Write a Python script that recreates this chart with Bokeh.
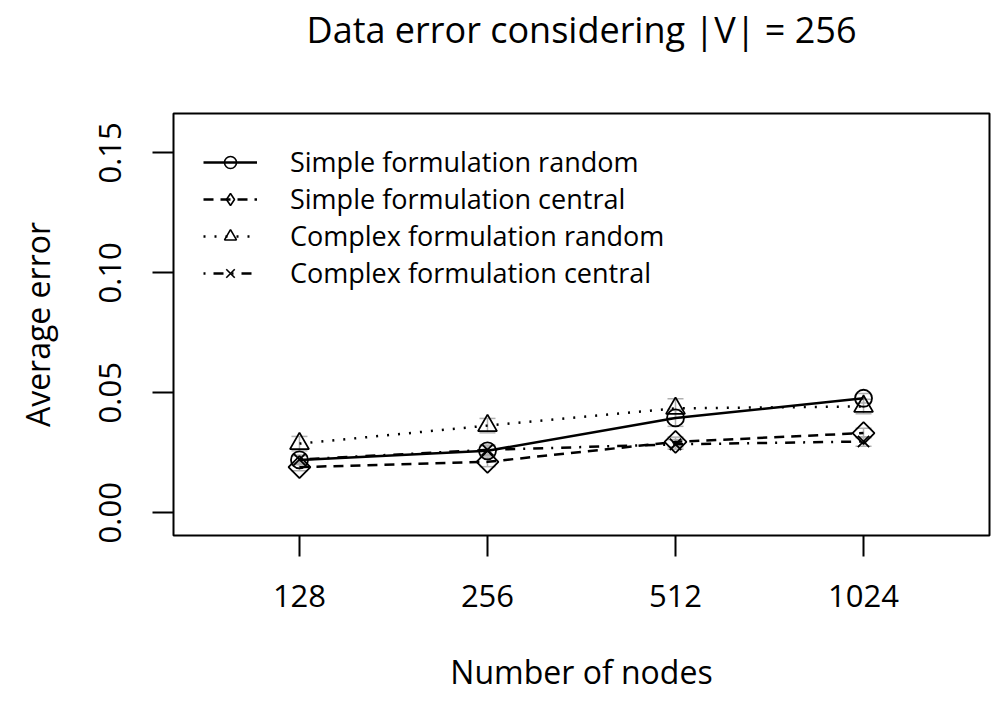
import math
from bokeh.plotting import figure
from bokeh.models import (ColumnDataSource, Range1d, FixedTicker, Legend, LegendItem,
                          Whisker, TeeHead, Title)
from bokeh.embed import file_html
from bokeh.resources import INLINE

# ---- data ----
nodes = ["128", "256", "512", "1024"]
xpos = [1, 2, 3, 4]
simple_random = [0.022, 0.0258, 0.0395, 0.0477]
simple_central = [0.0190, 0.0212, 0.0295, 0.0332]
complex_random = [0.0288, 0.0363, 0.0435, 0.0443]
complex_central = [0.0222, 0.0262, 0.0285, 0.0297]
sd_simple_random = [0.0020, 0.0020, 0.0035, 0.0020]
sd_simple_central = [0.0015, 0.0020, 0.0020, 0.0020]
sd_complex_random = [0.0030, 0.0030, 0.0040, 0.0030]
sd_complex_central = [0.0015, 0.0020, 0.0020, 0.0020]
y_ticks = [0.0, 0.05, 0.10, 0.15]
y_tick_labels = ["0.00", "0.05", "0.10", "0.15"]
series_names = ["Simple formulation random", "Simple formulation central",
                "Complex formulation random", "Complex formulation central"]
title_text = "Data error considering |V| = 256"

FONT = "Open Sans"

p = figure(width=992, height=695, output_backend="svg", toolbar_location=None,
           x_range=Range1d(0.33, 4.67), y_range=Range1d(-0.0095, 0.1664),
           min_border_left=173, min_border_right=3, min_border_top=113,
           min_border_bottom=159, title=None)

spacer = Title(text=" ", text_font=FONT, text_font_size="10px", standoff=44)
real_title = Title(text=title_text, text_font=FONT, text_font_size="36px",
                   text_font_style="normal", text_color="black", align="center",
                   standoff=0, offset=0)
p.add_layout(spacer, "above")
p.add_layout(real_title, "above")

p.xgrid.visible = False
p.ygrid.visible = False
p.outline_line_color = "black"
p.outline_line_width = 2
p.outline_line_alpha = 1.0
p.background_fill_color = "white"
p.border_fill_color = "white"

for ax in (p.xaxis[0], p.yaxis[0]):
    ax.axis_line_color = None
    ax.major_tick_out = 21
    ax.major_tick_in = 0
    ax.major_tick_line_width = 2
    ax.major_tick_line_color = "black"
    ax.minor_tick_line_color = None
    ax.major_label_text_font = FONT
    ax.major_label_text_font_size = "31px"
    ax.major_label_text_color = "black"
    ax.axis_label_text_font = FONT
    ax.axis_label_text_font_size = "32px"
    ax.axis_label_text_font_style = "normal"
    ax.axis_label_text_color = "black"

p.xaxis.ticker = FixedTicker(ticks=xpos)
p.xaxis.major_label_overrides = {x: n for x, n in zip(xpos, nodes)}
p.xaxis.major_label_standoff = 28
p.xaxis.axis_label = "Number of nodes"
p.xaxis.axis_label_standoff = 40

p.yaxis.ticker = FixedTicker(ticks=y_ticks)
p.yaxis.major_label_overrides = {t: l for t, l in zip(y_ticks, y_tick_labels)}
p.yaxis.major_label_orientation = "vertical"
p.yaxis.major_label_standoff = 31
p.yaxis.axis_label = "Average error"
p.yaxis.axis_label_standoff = 38

series = [
    (simple_random, sd_simple_random, "solid", "circle", 17, 0, "circle", 11),
    (simple_central, sd_simple_central, "10 7", "square", 15.5, math.pi / 4, "diamond", 17),
    (complex_random, sd_complex_random, "2 9", "triangle", 19, 0, "triangle", 14),
    (complex_central, sd_complex_central, "2 8 10 8", "x", 16, 0, "x", 12),
]

items = []
for name, (vals, sds, dash, marker, msize, angle, lmarker, lsize) in zip(series_names, series):
    src = ColumnDataSource(dict(x=xpos, y=vals,
                                upper=[v + s for v, s in zip(vals, sds)],
                                lower=[v - s for v, s in zip(vals, sds)]))
    w = Whisker(source=src, base="x", upper="upper", lower="lower",
                line_color="#b0b0b0", line_width=1.5,
                upper_head=TeeHead(size=16, line_color="#b0b0b0", line_width=1.5),
                lower_head=TeeHead(size=16, line_color="#b0b0b0", line_width=1.5))
    p.add_layout(w)
    lr = p.line("x", "y", source=src, line_color="black", line_width=2.5, line_dash=dash)
    p.scatter("x", "y", source=src, marker=marker, size=msize, angle=angle,
              line_color="black", line_width=1.8, fill_color=None)
    dummy = p.scatter(x=[float("nan")], y=[float("nan")], marker=lmarker, size=lsize,
                      line_color="black", line_width=1.6, fill_color=None)
    items.append(LegendItem(label=name, renderers=[lr, dummy]))

legend = Legend(items=items, location="top_left", border_line_color=None,
                background_fill_alpha=0, label_text_font=FONT, label_text_color="black",
                label_text_font_size="27px", glyph_width=54, glyph_height=30,
                label_height=30, spacing=-2, padding=0, margin=30, label_standoff=33)
p.add_layout(legend)

open("out.html", "w").write(file_html(p, INLINE))
